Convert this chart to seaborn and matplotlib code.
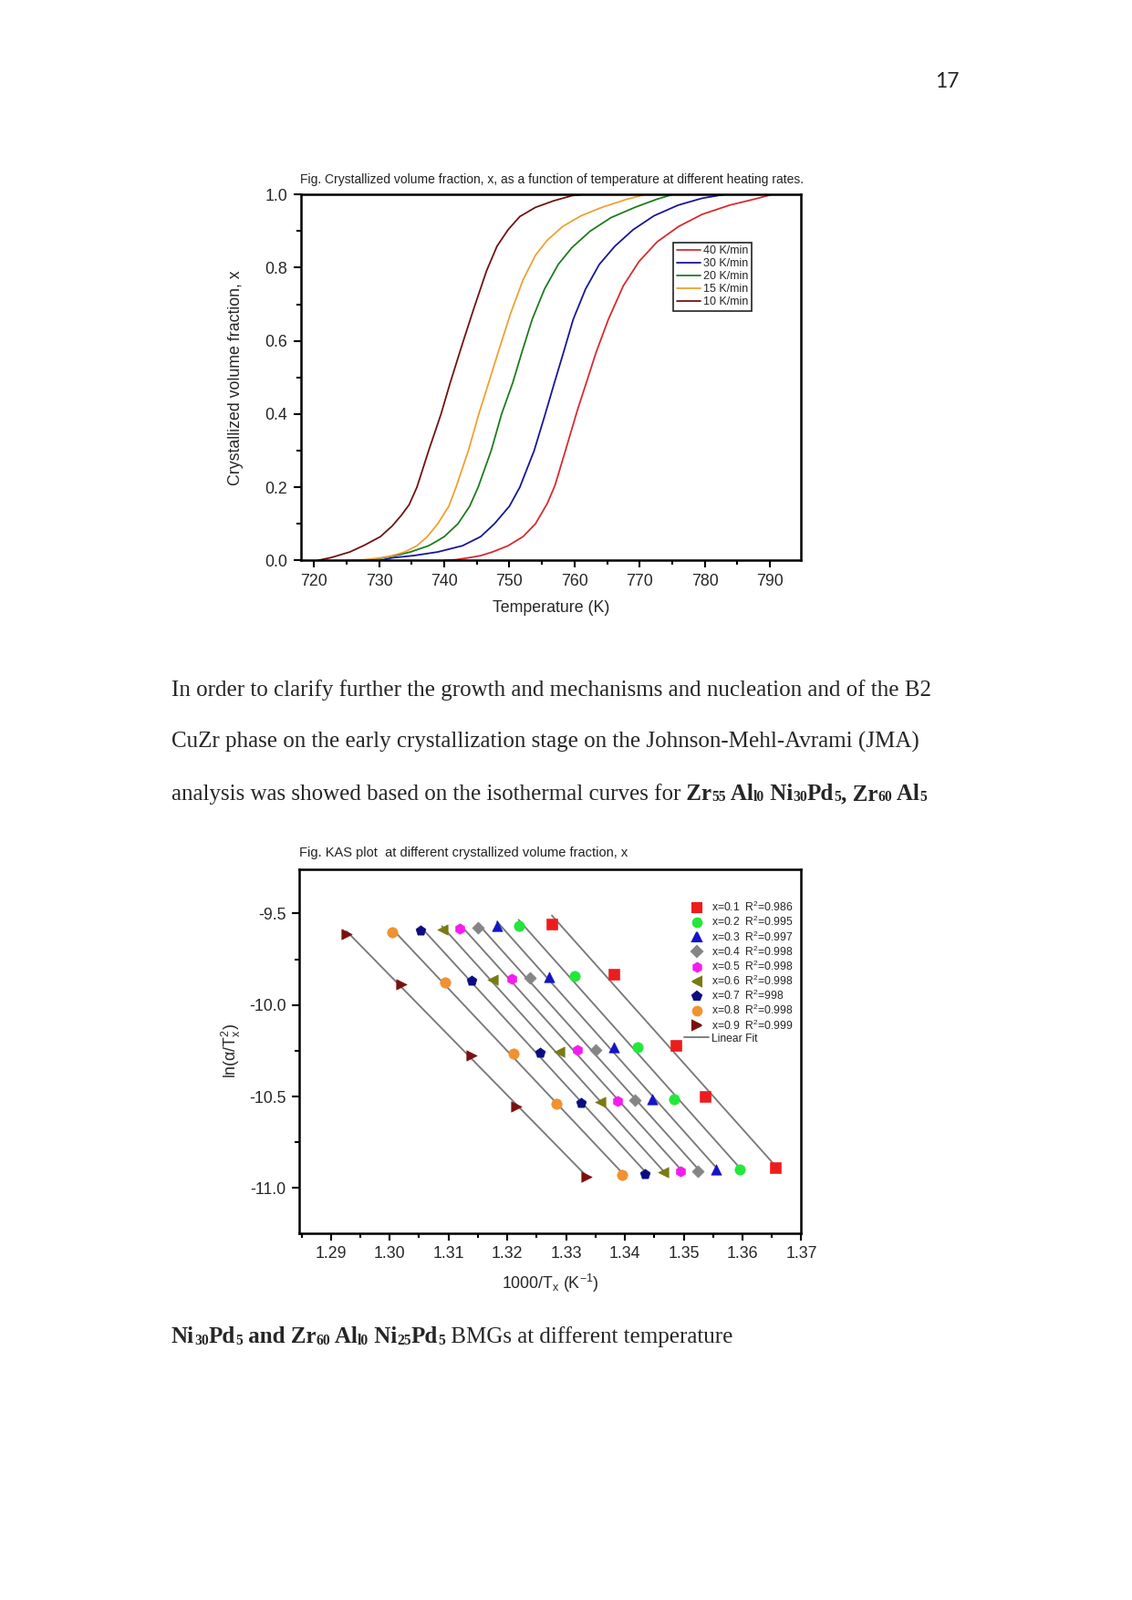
import numpy as np
import pandas as pd
import matplotlib
matplotlib.use('Agg')
from matplotlib import pyplot as plt, ticker
from matplotlib.lines import Line2D
import seaborn as sns

# *** --- data: top chart (crystallized fraction vs temperature) --- ***
rates = ['40 K/min', '30 K/min', '20 K/min', '15 K/min', '10 K/min']
rate_colors = ['#d8282c', '#14149a', '#1d7a1d', '#eea032', '#6e1010']

t_40 = [740.0, 741.8, 743.7, 745.6, 747.4, 749.8, 752.1, 754.0, 755.8, 757.0, 758.6, 760.5, 761.8,
        763.3, 765.2, 767.5, 769.9, 772.7, 776.0, 779.6, 783.8, 787.5, 790.3]
x_40 = [0.0, 0.002, 0.007, 0.013, 0.023, 0.04, 0.065, 0.1, 0.155, 0.205, 0.3, 0.414, 0.485,
        0.568, 0.659, 0.751, 0.817, 0.871, 0.913, 0.946, 0.971, 0.987, 1.0]
t_30 = [730.2, 732.0, 735.3, 739.0, 742.8, 745.6, 747.7, 750.0, 751.6, 753.8, 755.5, 756.9, 758.3,
        759.8, 761.7, 763.8, 766.2, 769.0, 772.2, 775.9, 779.6, 782.9]
x_30 = [0.0, 0.007, 0.013, 0.023, 0.04, 0.065, 0.1, 0.148, 0.2, 0.3, 0.4, 0.485, 0.568,
        0.659, 0.742, 0.809, 0.859, 0.904, 0.942, 0.971, 0.99, 1.0]
t_20 = [728.5, 730.6, 733.0, 734.8, 737.6, 738.8, 740.0, 742.1, 743.9, 745.2, 747.2, 748.8, 750.5,
        751.9, 753.5, 755.4, 757.5, 759.6, 762.4, 765.6, 769.4, 772.6, 775.0]
x_20 = [0.0, 0.007, 0.015, 0.023, 0.04, 0.052, 0.065, 0.1, 0.148, 0.2, 0.3, 0.4, 0.485,
        0.568, 0.659, 0.742, 0.809, 0.855, 0.9, 0.937, 0.966, 0.987, 1.0]
t_15 = [725.0, 727.8, 730.2, 732.0, 733.9, 735.8, 737.4, 739.0, 740.7, 741.8, 743.7, 745.3, 746.8,
        748.4, 750.2, 752.1, 754.0, 755.8, 758.2, 761.0, 764.2, 768.0, 770.8]
x_15 = [0.0, 0.002, 0.007, 0.013, 0.023, 0.04, 0.065, 0.1, 0.148, 0.2, 0.3, 0.4, 0.485,
        0.576, 0.676, 0.767, 0.834, 0.875, 0.913, 0.942, 0.965, 0.987, 1.0]
t_10 = [720.6, 722.7, 725.5, 727.8, 730.2, 732.0, 733.4, 734.6, 735.8, 737.6, 739.5, 740.9, 742.8,
        744.6, 746.5, 748.1, 749.8, 751.6, 754.0, 756.8, 759.6, 761.0]
x_10 = [0.0, 0.008, 0.023, 0.042, 0.065, 0.094, 0.123, 0.152, 0.2, 0.3, 0.4, 0.485, 0.593,
        0.692, 0.792, 0.859, 0.904, 0.94, 0.965, 0.983, 0.997, 1.0]

# *** --- data: bottom chart (KAS plot) --- ***
fractions = ['0.1', '0.2', '0.3', '0.4', '0.5', '0.6', '0.7', '0.8', '0.9']
r2_text = ['0.986', '0.995', '0.997', '0.998', '0.998', '0.998', '998', '0.998', '0.999']
kas_colors = ['#ee1c1c', '#22e83a', '#1414c8', '#858585', '#f41cf0', '#7a7a12', '#0c0c82', '#f0922e', '#7c1010']
kas_markers = ['s', 'o', '^', 'D', 'h', '<', 'p', 'o', '>']

kas_x = [
    [1.32758, 1.33820, 1.34869, 1.35366, 1.36563],
    [1.32193, 1.33141, 1.34224, 1.34835, 1.35951],
    [1.31824, 1.32718, 1.33813, 1.34466, 1.35555],
    [1.31501, 1.32382, 1.33504, 1.34170, 1.35245],
    [1.31198, 1.32072, 1.33195, 1.33881, 1.34950],
    [1.30889, 1.31750, 1.32879, 1.33578, 1.34647],
    [1.30526, 1.31400, 1.32556, 1.33255, 1.34345],
    [1.30035, 1.30936, 1.32113, 1.32839, 1.33948],
    [1.29269, 1.30197, 1.31387, 1.32146, 1.33350],
]
kas_y = [
    [-9.560, -9.832, -10.222, -10.500, -10.889],
    [-9.568, -9.842, -10.233, -10.513, -10.897],
    [-9.568, -9.845, -10.233, -10.513, -10.897],
    [-9.580, -9.853, -10.245, -10.522, -10.907],
    [-9.583, -9.857, -10.245, -10.525, -10.911],
    [-9.588, -9.862, -10.255, -10.531, -10.914],
    [-9.592, -9.867, -10.258, -10.536, -10.922],
    [-9.602, -9.877, -10.263, -10.541, -10.929],
    [-9.613, -9.888, -10.275, -10.553, -10.939],
]

# *** --- data: page text --- ***
line_1 = 'In order to clarify further the growth and mechanisms and nucleation and of the B2'
line_2 = 'CuZr phase on the early crystallization stage on the Johnson-Mehl-Avrami (JMA)'
# (text, bold, subscript)
line_3 = [('analysis was showed based on the isothermal curves for', False, False),
          (' Zr', True, False), ('55', True, True), (' Al', True, False), ('l0', True, True),
          (' Ni', True, False), ('30', True, True), ('Pd', True, False), ('5', True, True),
          (', Zr', True, False), ('60', True, True), (' Al', True, False), ('5', True, True)]
line_4 = [('Ni', True, False), ('30', True, True), ('Pd', True, False), ('5', True, True),
          (' and Zr', True, False), ('60', True, True), (' Al', True, False), ('l0', True, True),
          (' Ni', True, False), ('25', True, True), ('Pd', True, False), ('5', True, True),
          (' BMGs at different temperature', False, False)]

sns.set_style('ticks')
plt.rcParams['font.family'] = ['Liberation Sans', 'DejaVu Sans']
plt.rcParams['mathtext.fontset'] = 'custom'
plt.rcParams['mathtext.rm'] = 'Liberation Sans'
plt.rcParams['mathtext.it'] = 'Liberation Sans:italic'
plt.rcParams['mathtext.bf'] = 'Liberation Sans:bold'
plt.rcParams['mathtext.sf'] = 'Liberation Sans'
plt.rcParams['axes.unicode_minus'] = False

W, H = 1241, 1754
SERIF = ['Liberation Serif', 'DejaVu Serif']


def box(left, top, right, bottom):
    return [left / W, 1 - bottom / H, (right - left) / W, (bottom - top) / H]


def style_axis(ax):
    for sp in ax.spines.values():
        sp.set_visible(True)
        sp.set_linewidth(1.2)
        sp.set_color('black')
    ax.tick_params(which='major', direction='out', length=4, width=1, labelsize=8.5, color='black', pad=3)
    ax.tick_params(which='minor', direction='out', length=2.5, width=1, color='black')
    ax.grid(False)


fig = plt.figure(figsize=(W / 150, H / 150), dpi=150)
fig.patch.set_facecolor('white')
renderer = fig.canvas.get_renderer()


def rich_line(x_px, y_px, pieces):
    x = x_px
    for s, bold, sub in pieces:
        t = fig.text(x / W, 1 - (y_px + (1.5 if sub else 0)) / H, s, fontsize=7.5 if sub else 12,
                     fontweight='bold' if bold else 'normal', family=SERIF, ha='left', va='baseline')
        x += t.get_window_extent(renderer).width


# *** --- PLOT 1 --- ***
ax1 = fig.add_axes(box(330, 213.3, 878.3, 614.3))
curves = pd.concat([
    pd.DataFrame({'T': t, 'x': x, 'rate': r})
    for t, x, r in zip([t_40, t_30, t_20, t_15, t_10], [x_40, x_30, x_20, x_15, x_10], rates)
])
sns.lineplot(data=curves, x='T', y='x', hue='rate', hue_order=rates, palette=rate_colors,
             sort=False, estimator=None, linewidth=0.85, ax=ax1)
for ln in ax1.get_lines():
    ln.set_solid_joinstyle('round')
ax1.set_xlim(718, 794.8)
ax1.set_ylim(0, 1)
ax1.xaxis.set_major_locator(ticker.MultipleLocator(10))
ax1.xaxis.set_minor_locator(ticker.MultipleLocator(5))
ax1.yaxis.set_major_locator(ticker.MultipleLocator(0.2))
ax1.yaxis.set_minor_locator(ticker.MultipleLocator(0.1))
ax1.yaxis.set_major_formatter(ticker.FormatStrFormatter('%.1f'))
style_axis(ax1)
ax1.set_xlabel('Temperature (K)', fontsize=8.5)
ax1.set_ylabel('Crystallized volume fraction, x', fontsize=8.5)
ax1.xaxis.set_label_coords(0.5, -0.108)
ax1.yaxis.set_label_coords(-0.115, 0.5)
h, l = ax1.get_legend_handles_labels()
leg1 = ax1.legend(h, l, loc='upper left', bbox_to_anchor=(0.7447, 0.8693), borderaxespad=0,
                  fontsize=6, handlelength=2.1, handletextpad=0.2, labelspacing=0.15, borderpad=0.3,
                  fancybox=False, edgecolor='#222222', framealpha=1)
leg1.get_frame().set_linewidth(0.8)
fig.text(329 / W, 1 - 201.5 / H,
         'Fig. Crystallized volume fraction, x, as a function of temperature at different heating rates.',
         fontsize=6.65, va='baseline', ha='left', color='#222222')

# *** --- PLOT 2 --- ***
ax2 = fig.add_axes(box(328, 952.5, 878.4, 1351.5))
handles = []
for xs, ys in zip(kas_x, kas_y):
    sns.regplot(x=np.array(xs), y=np.array(ys), scatter=False, ci=None, truncate=True,
                color='#7a7a7a', line_kws={'linewidth': 0.9}, ax=ax2)
for xs, ys, fr, r2, c, m in zip(kas_x, kas_y, fractions, r2_text, kas_colors, kas_markers):
    size = 20 if m == 'D' else 30
    sns.scatterplot(x=xs, y=ys, marker=m, color=c, s=size, edgecolor=c, linewidth=0.3, zorder=3, ax=ax2)
    handles.append(Line2D([], [], linestyle='none', marker=m, color=c, markersize=4.6 if m != 'D' else 3.8,
                          label='x=' + fr + '  R$^{\\mathsf{2}}$=' + r2))
handles.append(Line2D([], [], color='#7a7a7a', linewidth=0.9, label='Linear Fit'))
ax2.set_xlim(1.2846, 1.37)
ax2.set_ylim(-11.245, -9.256)
ax2.xaxis.set_major_locator(ticker.MultipleLocator(0.01))
ax2.xaxis.set_minor_locator(ticker.MultipleLocator(0.005))
ax2.xaxis.set_major_formatter(ticker.FormatStrFormatter('%.2f'))
ax2.yaxis.set_major_locator(ticker.MultipleLocator(0.5))
ax2.yaxis.set_minor_locator(ticker.MultipleLocator(0.25))
ax2.yaxis.set_major_formatter(ticker.FormatStrFormatter('%.1f'))
style_axis(ax2)
ax2.set_xlabel('1000/T$_{\\mathsf{x}}$ (K$^{\\mathsf{-1}}$)', fontsize=8.5)
ax2.set_ylabel('ln($\\mathsf{\\alpha}$/T$_{\\mathsf{x}}^{\\mathsf{2}}$)', fontsize=8.5)
ax2.xaxis.set_label_coords(0.5, -0.108)
ax2.yaxis.set_label_coords(-0.113, 0.5)
leg2 = ax2.legend(handles=handles, loc='upper left', bbox_to_anchor=(0.766, 0.9135), borderaxespad=0,
                  frameon=False, fontsize=5.8, handlelength=2.3, handletextpad=0.2, labelspacing=0.08,
                  borderpad=0)
fig.text(328 / W, 1 - 939 / H, 'Fig. KAS plot  at different crystallized volume fraction, x',
         fontsize=7.0, va='baseline', ha='left', color='#222222')

# *** --- page text --- ***
fig.text(1052 / W, 1 - 96 / H, '17', fontsize=11, family=['Lato', 'DejaVu Sans'], ha='right', va='baseline')
fig.text(188 / W, 1 - 763 / H, line_1, fontsize=12, family=SERIF, ha='left', va='baseline')
fig.text(188 / W, 1 - 820 / H, line_2, fontsize=12, family=SERIF, ha='left', va='baseline')
rich_line(188, 877, line_3)
rich_line(188, 1472, line_4)

fig.savefig('out.png', dpi=150, facecolor='white')
